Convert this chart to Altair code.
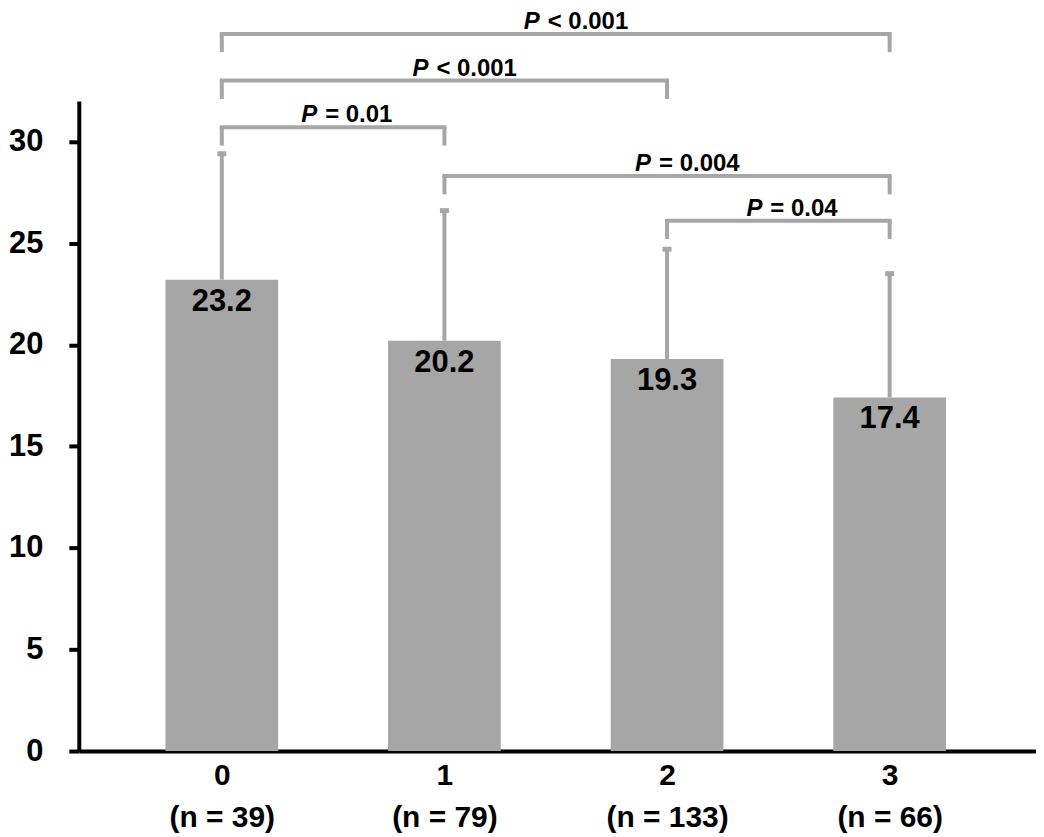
import json
import altair as alt
import pandas as pd

# ---- data ----
categories = ["0", "1", "2", "3"]
n_counts = [39, 79, 133, 66]
means = [23.2, 20.2, 19.3, 17.4]
upper = [29.4, 26.6, 24.7, 23.5]          # mean + SD (whisker tops)

br_left = [0, 0, 0, 1, 2]
br_right = [1, 2, 3, 3, 3]
br_level = [30.7, 33.0, 35.3, 28.3, 26.1]
br_sign = ["=", "<", "<", "=", "="]
br_p = ["0.01", "0.001", "0.001", "0.004", "0.04"]

GRAY = "#a6a6a6"
FONT = "Liberation Sans"
LEG = 0.9

bars = pd.DataFrame({
    "pos": list(range(len(categories))),
    "cat": categories,
    "mean": means,
    "upper": upper,
})
br = pd.DataFrame({"l": br_left, "r": br_right, "level": br_level,
                   "sign": br_sign, "p": br_p})
br["mid"] = (br["l"] + br["r"]) / 2
br["legbot"] = br["level"] - LEG
br["rest"] = br["sign"] + " " + br["p"]
legs = pd.concat([
    pd.DataFrame({"x": br["l"], "top": br["level"], "bot": br["legbot"]}),
    pd.DataFrame({"x": br["r"], "top": br["level"], "bot": br["legbot"]}),
])

n_labels = [f"(n = {n})" for n in n_counts]

xscale = alt.Scale(domain=[-0.62, 3.635], nice=False, zero=False)
yscale = alt.Scale(domain=[0, 32], nice=False)

xaxis = alt.Axis(
    values=list(range(len(categories))), format="d", ticks=False, grid=False,
    domainColor="black", domainWidth=4, title=None,
    labelExpr=f"[datum.label, {json.dumps(n_labels)}[datum.value]]",
    labelFont=FONT, labelFontSize=30, labelFontWeight="bold", labelColor="black",
    labelPadding=10, labelLineHeight=42, labelAngle=0,
)
yaxis = alt.Axis(
    values=list(range(0, 31, 5)), grid=False, title=None,
    domainColor="black", domainWidth=4, tickColor="black", tickWidth=4,
    tickSize=10, labelFont=FONT, labelFontSize=31, labelFontWeight="bold",
    labelColor="black", labelPadding=26,
)


def X(field):
    return alt.X(field, type="quantitative", scale=xscale, axis=xaxis)


def Y(field):
    return alt.Y(field, type="quantitative", scale=yscale, axis=yaxis)


base = alt.Chart(bars)

whisker = base.mark_rule(color=GRAY, strokeWidth=4).encode(
    x=X("pos"), y=Y("mean"), y2="upper:Q",
)
cap = base.mark_tick(color=GRAY, orient="horizontal", size=9, thickness=5,
                     opacity=1).encode(x=X("pos"), y=Y("upper"))
bar = base.mark_bar(color=GRAY, size=113).encode(x=X("pos"), y=Y("mean"))
bar_text = base.mark_text(font=FONT, fontSize=31, fontWeight="bold",
                          color="black", baseline="top", dy=7).encode(
    x=X("pos"), y=Y("mean"),
    text=alt.Text("mean:Q", format=".1f"),
)

bch = alt.Chart(br)
hline = bch.mark_rule(color=GRAY, strokeWidth=4, strokeCap="square").encode(
    x=X("l"), x2="r:Q", y=Y("level"),
)
vlegs = alt.Chart(legs).mark_rule(color=GRAY, strokeWidth=4).encode(
    x=X("x"), y=Y("top"), y2="bot:Q",
)
p_text = bch.mark_text(font=FONT, fontSize=24, fontWeight="bold",
                       fontStyle="italic", color="black", align="right",
                       baseline="alphabetic", dy=-5, dx=-16).encode(
    x=X("mid"), y=Y("level"), text=alt.value("P"),
)
rest_text = bch.mark_text(font=FONT, fontSize=24, fontWeight="bold",
                          color="black", align="left",
                          baseline="alphabetic", dy=-5, dx=-8).encode(
    x=X("mid"), y=Y("level"), text="rest:N",
)

chart = alt.layer(
    whisker, cap, bar, bar_text, hline, vlegs, p_text, rest_text
).properties(
    width=960, height=652, background="white",
    padding={"left": 0, "top": 0, "right": 0, "bottom": 0},
).configure_view(strokeWidth=0, stroke="transparent")

chart.save("out.html", embed_options={"renderer": "svg", "actions": False})
